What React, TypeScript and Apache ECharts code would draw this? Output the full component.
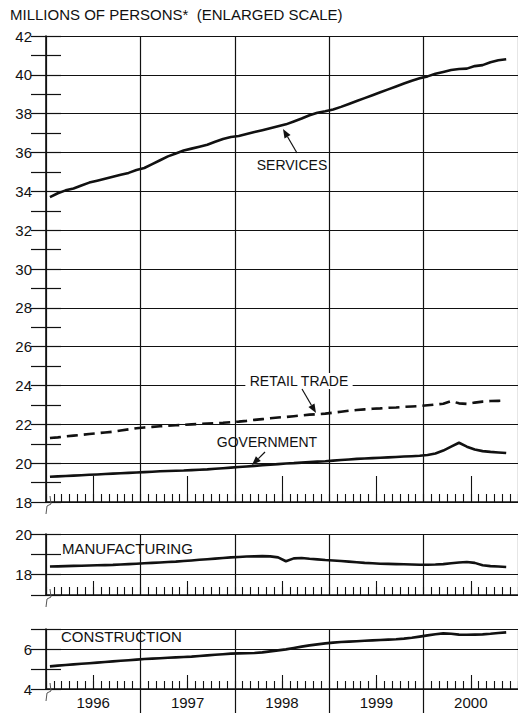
import React, { useEffect, useRef } from "react";
import * as echarts from "echarts";

const YEAR_LABELS = ["1996", "1997", "1998", "1999", "2000"];
const MID_YEAR_MONTHS = [6, 18, 30, 42, 54];
const YEAR_START_MONTHS = [12, 24, 36, 48];

const SERVICES = [
  33.7, 33.9, 34.05, 34.15, 34.3, 34.45, 34.55, 34.65, 34.75, 34.85, 34.95, 35.1,
  35.2, 35.4, 35.6, 35.8, 35.95, 36.1, 36.2, 36.3, 36.4, 36.55, 36.7, 36.8,
  36.85, 36.95, 37.05, 37.15, 37.25, 37.35, 37.45, 37.6, 37.75, 37.92, 38.05, 38.12,
  38.22, 38.35, 38.5, 38.65, 38.8, 38.95, 39.1, 39.25, 39.4, 39.55, 39.7, 39.82,
  39.92, 40.05, 40.15, 40.25, 40.3, 40.32, 40.45, 40.5, 40.65, 40.75, 40.8,
];
const RETAIL_TRADE = [
  21.3, 21.33, 21.38, 21.42, 21.46, 21.5, 21.54, 21.58, 21.62, 21.68, 21.74, 21.8,
  21.84, 21.87, 21.9, 21.93, 21.95, 21.97, 22.0, 22.02, 22.04, 22.06, 22.08, 22.11,
  22.14, 22.18, 22.23, 22.27, 22.31, 22.35, 22.38, 22.42, 22.46, 22.5, 22.52, 22.55,
  22.6, 22.65, 22.7, 22.74, 22.77, 22.8, 22.82, 22.85, 22.87, 22.9, 22.92, 22.94,
  22.98, 23.02, 23.06, 23.2, 23.08, 23.05, 23.12, 23.17, 23.2, 23.21, 23.22,
];
const GOVERNMENT = [
  19.3, 19.32, 19.34, 19.36, 19.38, 19.4, 19.42, 19.44, 19.46, 19.48, 19.5, 19.52,
  19.54, 19.56, 19.58, 19.6, 19.61, 19.62, 19.64, 19.66, 19.68, 19.71, 19.74, 19.77,
  19.8, 19.83, 19.86, 19.89, 19.92, 19.95, 19.98, 20.0, 20.03, 20.06, 20.08, 20.1,
  20.13, 20.16, 20.19, 20.22, 20.24, 20.26, 20.28, 20.3, 20.32, 20.34, 20.36, 20.38,
  20.42, 20.5, 20.65, 20.85, 21.05, 20.85, 20.7, 20.62, 20.58, 20.55, 20.52,
];
const MANUFACTURING = [
  18.4, 18.41, 18.42, 18.43, 18.44, 18.45, 18.46, 18.47, 18.48, 18.5, 18.52, 18.54,
  18.56, 18.58, 18.6, 18.62, 18.64, 18.67, 18.7, 18.73, 18.76, 18.79, 18.82, 18.85,
  18.87, 18.89, 18.9, 18.91, 18.9, 18.85, 18.66, 18.8, 18.82, 18.78, 18.75, 18.72,
  18.7, 18.67, 18.64, 18.61, 18.58, 18.56, 18.54, 18.53, 18.52, 18.51, 18.5, 18.49,
  18.49, 18.5, 18.52, 18.56, 18.6, 18.62, 18.58, 18.46, 18.42, 18.4, 18.38,
];
const CONSTRUCTION = [
  5.13, 5.17, 5.2, 5.23, 5.26, 5.29, 5.32, 5.35, 5.38, 5.41, 5.44, 5.47,
  5.5, 5.52, 5.54, 5.56, 5.58, 5.6, 5.62, 5.65, 5.68, 5.71, 5.74, 5.77,
  5.78, 5.79, 5.8, 5.83, 5.88, 5.93, 5.98, 6.05, 6.12, 6.18, 6.23, 6.28,
  6.32, 6.35, 6.37, 6.39, 6.41, 6.43, 6.45, 6.47, 6.49, 6.52, 6.56, 6.62,
  6.68, 6.74, 6.78, 6.76, 6.72, 6.71, 6.72, 6.73, 6.76, 6.8, 6.83,
];

const FONT = "Liberation Sans";
const BLACK = "#111";
const CLEAR = "rgba(0,0,0,0)";

// each monthly value is plotted at the middle of its month
const toPoints = (vals: number[]) => vals.map((v, i) => [i + 0.5, v]);

function arrow(x1: number, y1: number, x2: number, y2: number) {
  const dx = x2 - x1;
  const dy = y2 - y1;
  const L = Math.hypot(dx, dy);
  const ux = dx / L;
  const uy = dy / L;
  const head = 9;
  const hw = 3.5;
  const bx = x2 - ux * head;
  const by = y2 - uy * head;
  return [
    {
      type: "line",
      shape: { x1, y1, x2: bx, y2: by },
      style: { stroke: BLACK, lineWidth: 1.2 },
      z: 100,
    },
    {
      type: "polygon",
      shape: {
        points: [
          [x2, y2],
          [bx - uy * hw, by + ux * hw],
          [bx + uy * hw, by - ux * hw],
        ],
      },
      style: { fill: BLACK },
      z: 100,
    },
  ];
}

function breakMark(x: number, y: number) {
  return {
    type: "polyline",
    shape: {
      points: [
        [x + 3, y - 6],
        [x + 4, y + 2],
        [x, y + 4],
        [x - 1, y + 12],
      ],
    },
    style: { stroke: "#555", lineWidth: 1, fill: null },
    z: 100,
  };
}

// year grid lines, axis line and monthly ticks
function xBaseAxis(gridIndex: number) {
  return {
    type: "value",
    gridIndex,
    position: "bottom",
    min: 0,
    max: 60,
    interval: 12,
    axisLine: { show: true, onZero: false, lineStyle: { color: BLACK, width: 1.6 } },
    axisTick: { show: true, inside: true, length: 8, lineStyle: { color: BLACK, width: 1.1 } },
    minorTick: {
      show: true,
      splitNumber: 12,
      length: 8,
      lineStyle: { color: BLACK, width: 1.1 },
    },
    splitLine: { show: true, lineStyle: { color: BLACK, width: 1.2 } },
    axisLabel: { show: false },
  };
}

// mid-year tall ticks (and year labels on the bottom panel)
function xMidAxis(gridIndex: number, midTick: number, showLabels: boolean) {
  return {
    type: "value",
    gridIndex,
    position: "bottom",
    min: 0,
    max: 60,
    interval: 12,
    axisLine: { show: false, onZero: false },
    axisTick: {
      show: true,
      inside: true,
      length: midTick,
      customValues: MID_YEAR_MONTHS,
      lineStyle: { color: BLACK, width: 1.1 },
    },
    minorTick: { show: false },
    splitLine: { show: false },
    axisLabel: showLabels
      ? {
          show: true,
          customValues: MID_YEAR_MONTHS,
          formatter: (v: number) => YEAR_LABELS[MID_YEAR_MONTHS.indexOf(Math.round(v))] ?? "",
          fontFamily: FONT,
          fontSize: 15,
          color: BLACK,
          margin: 6,
        }
      : { show: false },
  };
}

function yPair(gridIndex: number, min: number, max: number, interval: number, labels: number[], splitColors: string[], minor: boolean) {
  const common = {
    type: "value",
    gridIndex,
    min,
    max,
    interval,
  };
  return [
    {
      ...common,
      position: "left",
      axisLine: { show: true, onZero: false, lineStyle: { color: BLACK, width: 1.6 } },
      axisTick: { show: true, inside: true, length: 15, lineStyle: { color: BLACK, width: 1.2 } },
      minorTick: { show: minor, splitNumber: 2, length: 15, lineStyle: { color: BLACK, width: 1.2 } },
      splitLine: { show: true, lineStyle: { color: splitColors, width: 1.2 } },
      axisLabel: {
        show: true,
        margin: 14,
        fontFamily: FONT,
        fontSize: 15,
        color: BLACK,
        formatter: (v: number) => (labels.includes(v) ? String(v) : ""),
      },
    },
    {
      ...common,
      position: "right",
      axisLine: { show: false },
      axisTick: { show: true, inside: true, length: 15, lineStyle: { color: BLACK, width: 1.2 } },
      minorTick: { show: minor, splitNumber: 2, length: 15, lineStyle: { color: BLACK, width: 1.2 } },
      splitLine: { show: false },
      axisLabel: { show: false },
    },
  ];
}

const lineSeries = (name: string, vals: number[], xAxisIndex: number, yAxisIndex: number, dashed = false) => ({
  name,
  type: "line",
  xAxisIndex,
  yAxisIndex,
  data: toPoints(vals),
  symbol: "none",
  smooth: false,
  lineStyle: { color: BLACK, width: 2.6, type: dashed ? [11, 6] : "solid" },
  z: 5,
});

export default function App() {
  const ref = useRef<HTMLDivElement>(null);
  useEffect(() => {
    if (!ref.current) return;
    const chart = echarts.init(ref.current, null, { renderer: "svg" });
    const option: any = {
      animation: false,
      backgroundColor: "#fff",
      textStyle: { fontFamily: FONT },
      grid: [
        { left: 46, top: 36, width: 480, height: 466 },
        { left: 46, top: 534, width: 480, height: 61 },
        { left: 46, top: 629, width: 480, height: 60 },
      ],
      xAxis: [
        xBaseAxis(0),
        xBaseAxis(1),
        xBaseAxis(2),
        xMidAxis(0, 26, false),
        xMidAxis(1, 14, false),
        xMidAxis(2, 14, true),
        {
          type: "value",
          gridIndex: 2,
          position: "bottom",
          min: 0,
          max: 60,
          interval: 12,
          axisLine: { show: false, onZero: false },
          axisTick: {
            show: true,
            inside: false,
            length: 26,
            customValues: YEAR_START_MONTHS,
            lineStyle: { color: BLACK, width: 1.2 },
          },
          splitLine: { show: false },
          axisLabel: { show: false },
        },
      ],
      yAxis: [
        ...yPair(0, 18, 42, 2, [18, 20, 22, 24, 26, 28, 30, 32, 34, 36, 38, 40, 42], [BLACK], true),
        ...yPair(1, 17, 20, 1, [18, 20], [BLACK, BLACK, CLEAR], false),
        ...yPair(2, 4, 7, 1, [4, 6], [BLACK, CLEAR, BLACK], false),
      ],
      series: [
        lineSeries("Services", SERVICES, 0, 0),
        lineSeries("Retail trade", RETAIL_TRADE, 0, 0, true),
        lineSeries("Government", GOVERNMENT, 0, 0),
        lineSeries("Manufacturing", MANUFACTURING, 1, 2),
        lineSeries("Construction", CONSTRUCTION, 2, 4),
      ],
      graphic: [
        {
          type: "text",
          left: 10,
          top: 7,
          style: {
            text: "MILLIONS OF PERSONS*  (ENLARGED SCALE)",
            fontFamily: FONT,
            fontSize: 15,
            fill: BLACK,
          },
        },
        {
          type: "text",
          x: 292,
          y: 165,
          style: { text: "SERVICES", fontFamily: FONT, fontSize: 14, fill: BLACK, align: "center", verticalAlign: "middle" },
          z: 100,
        },
        ...arrow(297, 153, 283, 129),
        {
          type: "text",
          x: 299,
          y: 381,
          style: {
            text: "RETAIL TRADE",
            fontFamily: FONT,
            fontSize: 14,
            fill: BLACK,
            align: "center",
            verticalAlign: "middle",
            backgroundColor: "#fff",
            padding: [1, 4],
          },
          z: 100,
        },
        ...arrow(302, 389, 316, 413),
        {
          type: "text",
          x: 267,
          y: 442,
          style: {
            text: "GOVERNMENT",
            fontFamily: FONT,
            fontSize: 14,
            fill: BLACK,
            align: "center",
            verticalAlign: "middle",
          },
          z: 100,
        },
        ...arrow(265, 452, 252, 465),
        {
          type: "text",
          x: 62,
          y: 548,
          style: { text: "MANUFACTURING", fontFamily: FONT, fontSize: 15, fill: BLACK, verticalAlign: "middle" },
          z: 100,
        },
        {
          type: "text",
          x: 61,
          y: 636,
          style: { text: "CONSTRUCTION", fontFamily: FONT, fontSize: 15, fill: BLACK, verticalAlign: "middle" },
          z: 100,
        },
        breakMark(47, 502),
        breakMark(47, 595),
        breakMark(47, 689),
      ],
    };
    chart.setOption(option);
    return () => chart.dispose();
  }, []);
  return (
    <div
      style={{ position: "absolute", left: 0, top: 0, width: 518, height: 713, overflow: "hidden", background: "#fff" }}
    >
      <div ref={ref} style={{ width: 518, height: 713 }} />
    </div>
  );
}
